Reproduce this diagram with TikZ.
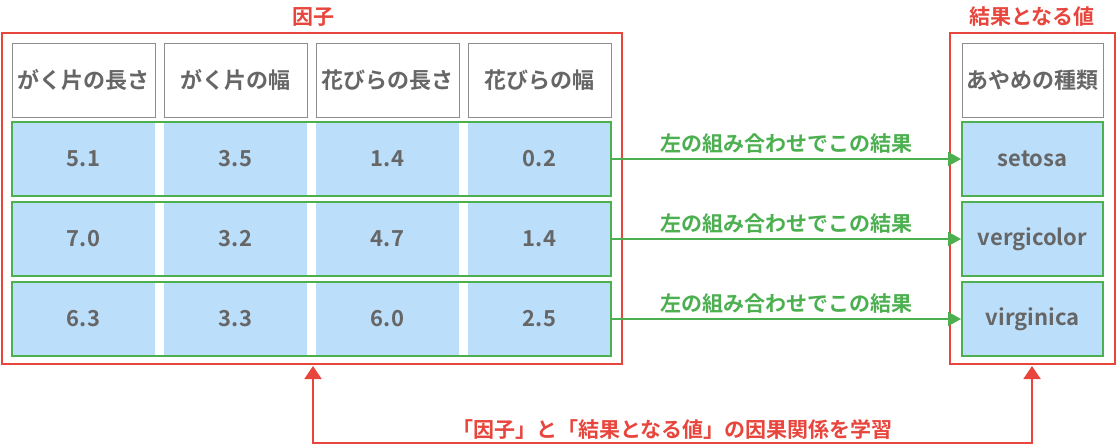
\documentclass[tikz,border=0pt]{standalone}
\usepackage{fontspec}
\newfontfamily\jp{Noto Sans CJK JP}[BoldFont={Noto Sans CJK JP Bold}]
\usetikzlibrary{arrows.meta,positioning}
\definecolor{boxred}{HTML}{E8453C}
\definecolor{rowgreen}{HTML}{4CAF50}
\definecolor{cellblue}{HTML}{BBDEFB}
\definecolor{txtgray}{HTML}{666666}
\tikzset{
  head/.style={draw=black!45,fill=white,minimum width=143pt,minimum height=74pt,inner sep=0pt,font=\jp\bfseries\fontsize{22}{22}\selectfont,text=txtgray},
  cell/.style={fill=cellblue,minimum width=143pt,minimum height=74pt,inner sep=0pt,font=\jp\bfseries\fontsize{22}{22}\selectfont,text=txtgray},
  result/.style={cell,draw=rowgreen,line width=2pt,minimum width=141pt},
  frame/.style={draw=boxred,line width=2pt},
  title/.style={font=\jp\bfseries\fontsize{21}{21}\selectfont,text=boxred},
  link/.style={draw=rowgreen,line width=2pt,-{Triangle[length=13pt,width=14pt]}},
  learn/.style={draw=boxred,line width=2pt,{Triangle[length=13pt,width=17pt]}-{Triangle[length=13pt,width=17pt]}}
}
\begin{document}
\begin{tikzpicture}[x=1pt,y=-1pt]
  \useasboundingbox (0,0) rectangle (1117,447);
  %% the two frames
  \draw[frame] (2,33) rectangle (622,364);
  \draw[frame] (950,33) rectangle (1115,364);
  \node[title] (factor) at (313,17) {因子};
  \node[title] (outcome) at (1032,17) {結果となる値};
  %% headers
  \node[head] (h1) at (83.5,80) {がく片の長さ};
  \node[head] (h2) at (235.5,80) {がく片の幅};
  \node[head] (h3) at (387.5,80) {花びらの長さ};
  \node[head] (h4) at (539.5,80) {花びらの幅};
  \node[head,minimum width=141pt] (hr) at (1032.5,80) {あやめの種類};
  %% the rows
  \foreach \r/\y/\a/\b/\c/\d/\res in {1/159/5.1/3.5/1.4/0.2/setosa,
                                     2/239/7.0/3.2/4.7/1.4/vergicolor,
                                     3/319/6.3/3.3/6.0/2.5/virginica}
  {
    \node[cell] (c\r1) at (83.5,\y) {\a};
    \node[cell] (c\r2) at (235.5,\y) {\b};
    \node[cell] (c\r3) at (387.5,\y) {\c};
    \node[cell] (c\r4) at (539.5,\y) {\d};
    \draw[rowgreen,line width=2pt] (c\r1.north west) rectangle (c\r4.south east);
    \node[result] (r\r) at (1032.5,\y) {\res};
    \draw[link] (c\r4.east) -- node[above=1pt,font=\jp\bfseries\fontsize{21}{21}\selectfont,text=rowgreen] {左の組み合わせでこの結果} (r\r.west);
  }
  %% the learning relation
  \coordinate (left) at (313,366);
  \coordinate (right) at (1032,366);
  \draw[learn] (left) -- (313,443) -- node[above=-1pt,title] {「因子」と「結果となる値」の因果関係を学習} (1032,443) -- (right);
\end{tikzpicture}
\end{document}
